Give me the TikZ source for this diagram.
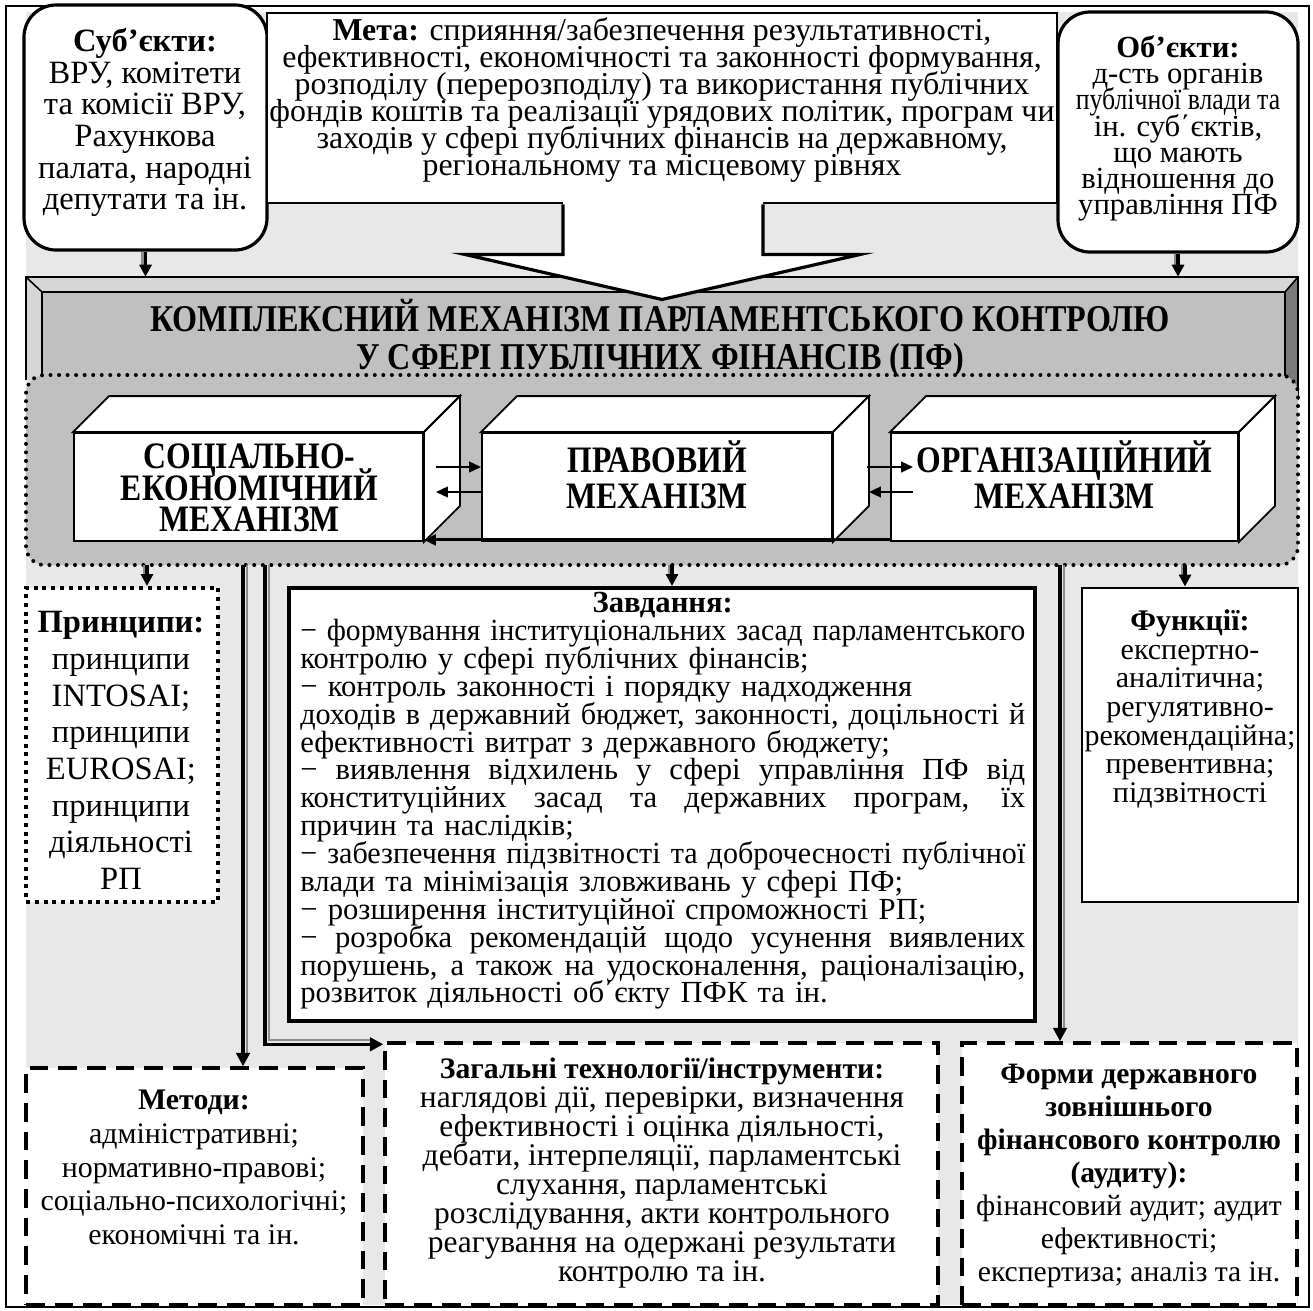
\documentclass[tikz,border=0pt]{standalone}
\usepackage{fontspec}
\usepackage{graphicx}
\setmainfont{Liberation Serif}
\usetikzlibrary{arrows.meta,fit,calc}
\definecolor{bglight}{HTML}{E8E8E8}
\definecolor{bandgray}{HTML}{C0C0C0}
\definecolor{bevlight}{HTML}{D6D6D6}
\definecolor{bevdark}{HTML}{7A7A7A}
\definecolor{shade}{HTML}{8C8C8C}
\newcommand\fsz[2]{\fontsize{#1}{#2}\selectfont\lineskiplimit=-100pt\lineskip=0pt\relax}
\newcommand\cnd[1]{\scalebox{0.85}[1]{#1}}
\newlength\tw
\setlength\tw{543.75pt}
\newcommand\jl[1]{\leavevmode\sbox0{#1}\ifdim\wd0>\tw\resizebox{\tw}{\height}{#1}\else\hbox to\tw{\spaceskip=0.25em plus 1fil\relax #1}\fi}
\lineskiplimit=-100pt
\begin{document}
\begin{tikzpicture}[x=0.75pt,y=-0.75pt,
  roundbox/.style={draw,line width=2.4pt,fill=white,rounded corners=24pt,inner sep=0pt},
  plainbox/.style={draw,line width=2.2pt,fill=white,inner sep=0pt},
  taskbox/.style={draw,line width=3pt,fill=white,inner sep=0pt},
  dotbox/.style={draw,line width=3pt,dash pattern=on 3pt off 3.6pt,fill=white,inner sep=0pt},
  dashbox/.style={draw,line width=2.6pt,dash pattern=on 14pt off 7.5pt,fill=white,inner sep=0pt},
  cube/.style={draw,line width=1.4pt,fill=white,line join=miter,inner sep=0pt},
  corebox/.style={draw,fill=bandgray,line width=3pt,dash pattern=on 0pt off 6.4pt,line cap=round,rounded corners=14pt,inner sep=0pt},
  txt/.style={align=center,inner sep=0pt},
  link/.style={line width=1.6pt,-{Triangle[length=9pt,width=8pt]}},
  downarr/.style={line width=2.4pt,-{Triangle[length=9pt,width=9pt]}},
  dblarr/.style={line width=2.6pt,-{Triangle[length=10pt,width=10pt]}},
  shadowln/.style={line width=1.8pt,draw=shade},
]
\useasboundingbox (0,0) rectangle (1313,1310);
\fill[white] (0,0) rectangle (1313,1310);
\fill[bglight] (26,12) rectangle (1298,1305);
\draw[line width=1.5pt] (6,6) rectangle (1309,1307);

% banner
\node[inner sep=0pt,fit={(26,277)(1298,400)}] (ban) {};
\fill[bandgray] (42,292) rectangle (1285,400);
\fill[bevlight] (26,277) -- (1298,277) -- (1285,292) -- (42,292) -- cycle;
\fill[bevlight] (26,277) -- (42,292) -- (42,380) -- (26,380) -- cycle;
\fill[bevdark] (1298,277) -- (1285,292) -- (1285,400) -- (1298,400) -- cycle;
\draw[line width=1.2pt] (26,380) -- (26,277) -- (1298,277) -- (1298,400);
\draw[line width=1.2pt] (26,277) -- (42,292) -- (1285,292) -- (1298,277);
\draw[line width=1.2pt] (42,292) -- (42,380);
\draw[line width=1.2pt] (1285,292) -- (1285,400);
\node[corebox,fit={(26,375)(1298,565)}] (core) {};
\node[txt,font=\bfseries\fsz{28.4}{29}] (banT) at (660,338.5)
  {\cnd{КОМПЛЕКСНИЙ МЕХАНІЗМ ПАРЛАМЕНТСЬКОГО КОНТРОЛЮ}\\\cnd{У СФЕРІ ПУБЛІЧНИХ ФІНАНСІВ (ПФ)}};

% cubes
\foreach \n/\a/\b in {m1/74/423, m2/482/832, m3/891/1238}{
  \node[cube,fit={(\a,433)(\b,541)}] (\n) {};
  \draw[cube] (\n.north west) -- ++(36,-36) -- ($(\n.north east)+(36,-36)$) -- (\n.north east) -- cycle;
  \draw[cube] (\n.north east) -- ++(36,-36) -- ($(\n.south east)+(36,-36)$) -- (\n.south east) -- cycle;
}
\node[txt,font=\bfseries\fsz{28}{23.5}] (m1T) at ($(m1.center)+(1,1)$) {\cnd{СОЦІАЛЬНО-}\\\cnd{ЕКОНОМІЧНИЙ}\\\cnd{МЕХАНІЗМ}};
\node[txt,font=\bfseries\fsz{28}{27}] (m2T) at ($(m2.center)+(0,-12)$) {\cnd{ПРАВОВИЙ}\\\cnd{МЕХАНІЗМ}};
\node[txt,font=\bfseries\fsz{28}{27}] (m3T) at ($(m3.center)+(0,-12)$) {\cnd{ОРГАНІЗАЦІЙНИЙ}\\\cnd{МЕХАНІЗМ}};
\draw[link] ($(m1.east)+(12,-20)$) -- ($(m2.west)+(0,-20)$);
\draw[link] ($(m2.west)+(0,5)$) -- ($(m1.east)+(12,5)$);
\draw[link] ($(m2.east)+(34,-20)$) -- ($(m3.west)+(23,-20)$);
\draw[link] ($(m3.west)+(23,5)$) -- ($(m2.east)+(36,5)$);
\draw[link,line width=2.2pt] ($(m3.south west)+(0,-2)$) -- ($(m1.south east)+(0,-2)$);

% top boxes
\node[roundbox,fit={(24,5)(267,250)}] (subj) {};
\node[plainbox,fit={(267,13)(1057,203)}] (meta) {};
\node[roundbox,fit={(1058,12)(1298,252)}] (obj) {};
\fill[white] ($(meta.south)+(-99,-4)$) -- ($(meta.south)+(-99,50)$) -- ($(meta.south)+(-197,50)$) -- ($(meta.south)+(0,95)$) -- ($(meta.south)+(198,50)$) -- ($(meta.south)+(101,50)$) -- ($(meta.south)+(101,-4)$) -- cycle;
\draw[line width=2.4pt,line join=miter] ($(meta.south)+(-99,0)$) -- ($(meta.south)+(-99,50)$) -- ($(meta.south)+(-197,50)$) -- ($(meta.south)+(0,95)$) -- ($(meta.south)+(198,50)$) -- ($(meta.south)+(101,50)$) -- ($(meta.south)+(101,0)$);

\node[txt,font=\fsz{24.4}{23.8}] (subjT) at (145,122.5)
  {\textbf{Суб’єкти:}\\ВРУ, комітети\\та комісії ВРУ,\\Рахункова\\палата, народні\\депутати та ін.};
\node[txt,font=\fsz{23.9}{20.25}] (metaT) at (662,100.5)
  {\textbf{Мета:} сприяння/забезпечення результативності,\\ефективності, економічності та законності формування,\\розподілу (перерозподілу) та використання публічних\\фондів коштів та реалізації урядових політик, програм чи\\заходів у сфері публічних фінансів на державному,\\регіональному та місцевому рівнях};
\node[txt,font=\fsz{23}{19.65}] (objT) at (1178,128.5)
  {\textbf{Об’єкти:}\\д-сть органів\\\scalebox{0.84}[1]{публічної влади та}\\ін. суб΄єктів,\\що мають\\відношення до\\управління ПФ};

\draw[shadowln] ($(subj.south)+(-3,0)$) -- ($(subj.south |- ban.north)+(-3,-9)$);
\draw[downarr] (subj.south) -- (subj.south |- ban.north);
\draw[shadowln] ($(obj.south)+(-3,0)$) -- ($(obj.south |- ban.north)+(-3,-9)$);
\draw[downarr] (obj.south) -- (obj.south |- ban.north);

% lower boxes
\node[dotbox,fit={(26,588)(218,902)}] (prin) {};
\node[taskbox,fit={(289,588)(1035,1021)}] (tasks) {};
\node[plainbox,fit={(1082,588)(1298,902)}] (func) {};
\node[dashbox,fit={(26,1068)(363,1305)}] (meth) {};
\node[dashbox,fit={(385,1043)(938,1305)}] (tools) {};
\node[dashbox,fit={(962,1043)(1297,1305)}] (forms) {};

% connectors from core
\coordinate (c1) at (147,565);
\coordinate (c2) at (672,565);
\coordinate (c3) at (1185,565);
\coordinate (c4) at (243,565);
\coordinate (c5) at (265,565);
\coordinate (c6) at (1060,565);
\foreach \c/\t in {c1/prin,c2/tasks,c3/func}{
  \draw[shadowln] ($(\c)+(-3,0)$) -- ($(\c |- \t.north)+(-3,-9)$);
  \draw[downarr] (\c) -- (\c |- \t.north);
}
\draw[shadowln] ($(c4)+(4,0)$) -- ($(c4 |- meth.north)+(4,-12)$);
\draw[dblarr] (c4) -- (c4 |- meth.north);
\draw[shadowln] ($(c5)+(4,0)$) |- ($(tools.north west)+(-12,-1)$);
\draw[dblarr] (c5) |- ($(tools.north west)+(0,3)$);
\draw[shadowln] ($(c6)+(4,0)$) -- ($(c6 |- forms.north)+(4,-12)$);
\draw[dblarr] (c6) -- (c6 |- forms.north);

% texts
\node[txt,font=\fsz{24.4}{27.5}] (prinT) at (121,750.5)
  {\textbf{Принципи:}\\принципи\\INTOSAI;\\принципи\\EUROSAI;\\принципи\\діяльності\\РП};
\node[align=left,inner sep=0pt,text width=\tw,font=\fsz{23}{20.9},anchor=west] (tasksT) at (300,801)
  {\makebox[\tw][c]{\bfseries Завдання:}\\
   \jl{− формування інституціональних засад парламентського}\\
   контролю у сфері публічних фінансів;\\
   − контроль законності і порядку надходження\\
   \jl{доходів в державний бюджет, законності, доцільності й}\\
   ефективності витрат з державного бюджету;\\
   \jl{− виявлення відхилень у сфері управління ПФ від}\\
   \jl{конституційних засад та державних програм, їх}\\
   причин та наслідків;\\
   \jl{− забезпечення підзвітності та доброчесності публічної}\\
   влади та мінімізація зловживань у сфері ПФ;\\
   − розширення інституційної спроможності РП;\\
   \jl{− розробка рекомендацій щодо усунення виявлених}\\
   \jl{порушень, а також на удосконалення, раціоналізацію,}\\
   розвиток діяльності об΄єкту ПФК та ін.};
\node[txt,font=\fsz{22.5}{21.45}] (funcT) at (1190,709)
  {\textbf{Функції:}\\експертно-\\аналітична;\\регулятивно-\\рекомендаційна;\\превентивна;\\підзвітності};
\node[txt,font=\fsz{22.4}{25.3}] (methT) at (194,1167.5)
  {\textbf{Методи:}\\адміністративні;\\нормативно-правові;\\соціально-психологічні;\\економічні та ін.};
\node[txt,font=\fsz{23.6}{21.75}] (toolsT) at (662,1173.5)
  {{\fsz{22.3}{21.75}\bfseries Загальні технології/інструменти:}\\наглядові дії, перевірки, визначення\\ефективності і оцінка діяльності,\\дебати, інтерпеляції, парламентські\\слухання, парламентські\\розслідування, акти контрольного\\реагування на одержані результати\\контролю та ін.};
\node[txt,font=\fsz{22.2}{24.75}] (formsT) at (1129,1176)
  {\textbf{Форми державного}\\\textbf{зовнішнього}\\\textbf{фінансового контролю}\\\textbf{(аудиту):}\\фінансовий аудит; аудит\\ефективності;\\експертиза; аналіз та ін.};
\end{tikzpicture}
\end{document}
